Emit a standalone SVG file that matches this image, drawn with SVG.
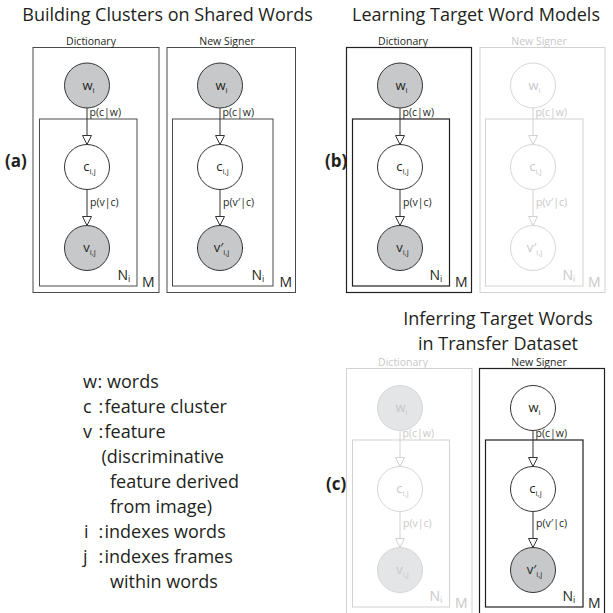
<svg xmlns="http://www.w3.org/2000/svg" width="613" height="613" viewBox="0 0 613 613">
<defs>
<style>
text{font-family:"Open Sans","Noto Sans","Liberation Sans",sans-serif;}
.title{font-size:18px;fill:#231f20;text-anchor:middle;}
.plabel{font-size:17px;font-weight:bold;fill:#231f20;}
.leg{font-size:18px;fill:#231f20;}
.hdr{font-size:10.5px;text-anchor:middle;fill:#231f20;}
.hdrf{font-size:10.5px;text-anchor:middle;fill:#c8c8c8;}
.elab{font-size:10.5px;fill:#231f20;}
.elabf{font-size:10.5px;fill:#c8c8c8;}
.nlab{font-size:13px;text-anchor:middle;fill:#231f20;}
.nlabf{font-size:13px;text-anchor:middle;fill:#c8c8c8;}
.sub{font-size:8px;}
.psub{font-size:9px;}
.plate{font-size:14px;fill:#231f20;}
.platef{font-size:14px;fill:#c8c8c8;}
.boxa{fill:none;stroke:#4a4a4a;stroke-width:1;}
.boxd{fill:none;stroke:#231f20;stroke-width:1.2;}
.boxf{fill:none;stroke:#d2d2d2;stroke-width:1;}
.obs{fill:#c7c8ca;stroke:#333;stroke-width:1;}
.lat{fill:#fff;stroke:#333;stroke-width:1;}
.fobs{fill:#e4e5e6;stroke:#d6d6d6;stroke-width:1;}
.flat{fill:#fff;stroke:#d6d6d6;stroke-width:1;}
.edge{stroke:#333;stroke-width:1;fill:none;marker-end:url(#arr);}
.edgef{stroke:#d2d2d2;stroke-width:1;fill:none;marker-end:url(#arrf);}
</style>
<marker id="arr" viewBox="0 0 10 10" markerUnits="userSpaceOnUse" markerWidth="10" markerHeight="10" refX="9.5" refY="5" orient="auto">
<path d="M0.5,0.5 L9.5,5 L0.5,9.5 Z" fill="#fff" stroke="#333" stroke-width="1"/>
</marker>
<marker id="arrf" viewBox="0 0 10 10" markerUnits="userSpaceOnUse" markerWidth="10" markerHeight="10" refX="9.5" refY="5" orient="auto">
<path d="M0.5,0.5 L9.5,5 L0.5,9.5 Z" fill="#fff" stroke="#d2d2d2" stroke-width="1"/>
</marker>
</defs>

<!-- Titles -->
<text class="title" x="167.5" y="21">Building Clusters on Shared Words</text>
<text class="title" x="476" y="21">Learning Target Word Models</text>
<text class="title" x="498" y="325">Inferring Target Words<tspan x="498" dy="24.5">in Transfer Dataset</tspan></text>

<text class="plabel" x="5" y="167">(a)</text>
<text class="plabel" x="325" y="167">(b)</text>
<text class="plabel" x="326" y="490">(c)</text>

<!-- Plates -->
<g id="plates">
<rect class="boxa" x="33" y="47.5" width="126" height="245"/>
<rect class="boxa" x="39.5" y="119" width="97.5" height="167"/>
<text class="hdr" x="91" y="45">Dictionary</text>
<text class="plate" x="117.5" y="280">N<tspan class="psub" dy="2">i</tspan></text>
<text class="plate" x="142" y="287">M</text>

<rect class="boxa" x="167" y="47.5" width="128.5" height="245"/>
<rect class="boxa" x="172.5" y="119" width="100.5" height="167"/>
<text class="hdr" x="227" y="45">New Signer</text>
<text class="plate" x="251.5" y="280">N<tspan class="psub" dy="2">i</tspan></text>
<text class="plate" x="279.5" y="287">M</text>

<rect class="boxd" x="346.5" y="47.5" width="125" height="245"/>
<rect class="boxd" x="352.5" y="119" width="97" height="167"/>
<text class="hdr" x="403" y="45">Dictionary</text>
<text class="plate" x="429.5" y="280">N<tspan class="psub" dy="2">i</tspan></text>
<text class="plate" x="455" y="287">M</text>

<rect class="boxf" x="480" y="47.5" width="125" height="245"/>
<rect class="boxf" x="485.5" y="119" width="97.5" height="167"/>
<text class="hdrf" x="539" y="45">New Signer</text>
<text class="platef" x="562.5" y="280">N<tspan class="psub" dy="2">i</tspan></text>
<text class="platef" x="588" y="287">M</text>

<rect class="boxf" x="346.5" y="368.5" width="125.5" height="260"/>
<rect class="boxf" x="352.5" y="440" width="97" height="167"/>
<text class="hdrf" x="403" y="366">Dictionary</text>
<text class="platef" x="429.5" y="601">N<tspan class="psub" dy="2">i</tspan></text>
<text class="platef" x="455" y="608">M</text>

<rect class="boxd" x="479.5" y="368.5" width="125" height="260"/>
<rect class="boxd" x="485.5" y="440" width="97.5" height="167"/>
<text class="hdr" x="539" y="366">New Signer</text>
<text class="plate" x="562.5" y="601">N<tspan class="psub" dy="2">i</tspan></text>
<text class="plate" x="588" y="608">M</text>
</g>

<!-- Connectors -->
<g id="connectors">
<line class="edge" x1="87" y1="108" x2="87" y2="144.5"/>
<line class="edge" x1="87" y1="189.5" x2="87" y2="225.5"/>
<text class="elab" x="89.5" y="116">p(c|w)</text>
<text class="elab" x="90" y="206">p(v|c)</text>

<line class="edge" x1="220" y1="108" x2="220" y2="144.5"/>
<line class="edge" x1="220" y1="189.5" x2="220" y2="225.5"/>
<text class="elab" x="222.5" y="116">p(c|w)</text>
<text class="elab" x="223" y="206">p(v′|c)</text>

<line class="edge" x1="400" y1="108" x2="400" y2="144.5"/>
<line class="edge" x1="400" y1="189.5" x2="400" y2="225.5"/>
<text class="elab" x="402.5" y="116">p(c|w)</text>
<text class="elab" x="403" y="206">p(v|c)</text>

<line class="edgef" x1="533" y1="108" x2="533" y2="144.5"/>
<line class="edgef" x1="533" y1="189.5" x2="533" y2="225.5"/>
<text class="elabf" x="535.5" y="116">p(c|w)</text>
<text class="elabf" x="536" y="206">p(v′|c)</text>

<line class="edgef" x1="400" y1="430.5" x2="400" y2="466.5"/>
<line class="edgef" x1="400" y1="511.5" x2="400" y2="547.5"/>
<text class="elabf" x="402.5" y="437">p(c|w)</text>
<text class="elabf" x="403" y="527">p(v|c)</text>

<line class="edge" x1="533" y1="430.5" x2="533" y2="466.5"/>
<line class="edge" x1="533" y1="511.5" x2="533" y2="547.5"/>
<text class="elab" x="535.5" y="437">p(c|w)</text>
<text class="elab" x="536" y="527">p(v′|c)</text>
</g>

<!-- Nodes (a) -->
<g id="a_dict_w"><circle class="obs" cx="87" cy="85.5" r="22.5"/><text class="nlab" x="88.5" y="89.5">w<tspan class="sub" dy="3">i</tspan></text></g>
<g id="a_dict_c"><circle class="lat" cx="87" cy="167" r="22.5"/><text class="nlab" x="89.5" y="170.5">c<tspan class="sub" dy="3">i,j</tspan></text></g>
<g id="a_dict_v"><circle class="obs" cx="87" cy="248" r="22.5"/><text class="nlab" x="89.5" y="251.5">v<tspan class="sub" dy="3">i,j</tspan></text></g>

<g id="a_new_w"><circle class="obs" cx="220" cy="85.5" r="22.5"/><text class="nlab" x="221.5" y="89.5">w<tspan class="sub" dy="3">i</tspan></text></g>
<g id="a_new_c"><circle class="lat" cx="220" cy="167" r="22.5"/><text class="nlab" x="222.5" y="170.5">c<tspan class="sub" dy="3">i,j</tspan></text></g>
<g id="a_new_v"><circle class="obs" cx="220" cy="248" r="22.5"/><text class="nlab" x="221.5" y="251.5">v′<tspan class="sub" dy="3">i,j</tspan></text></g>

<!-- Nodes (b) -->
<g id="b_dict_w"><circle class="obs" cx="400" cy="85.5" r="22.5"/><text class="nlab" x="401.5" y="89.5">w<tspan class="sub" dy="3">i</tspan></text></g>
<g id="b_dict_c"><circle class="lat" cx="400" cy="167" r="22.5"/><text class="nlab" x="402.5" y="170.5">c<tspan class="sub" dy="3">i,j</tspan></text></g>
<g id="b_dict_v"><circle class="obs" cx="400" cy="248" r="22.5"/><text class="nlab" x="402.5" y="251.5">v<tspan class="sub" dy="3">i,j</tspan></text></g>

<g id="b_new_w"><circle class="flat" cx="533" cy="85.5" r="22.5"/><text class="nlabf" x="534.5" y="89.5">w<tspan class="sub" dy="3">i</tspan></text></g>
<g id="b_new_c"><circle class="flat" cx="533" cy="167" r="22.5"/><text class="nlabf" x="535.5" y="170.5">c<tspan class="sub" dy="3">i,j</tspan></text></g>
<g id="b_new_v"><circle class="flat" cx="533" cy="248" r="22.5"/><text class="nlabf" x="534.5" y="251.5">v′<tspan class="sub" dy="3">i,j</tspan></text></g>

<!-- Nodes (c) -->
<g id="c_dict_w"><circle class="fobs" cx="400" cy="408" r="22.5"/><text class="nlabf" x="401.5" y="412">w<tspan class="sub" dy="3">i</tspan></text></g>
<g id="c_dict_c"><circle class="flat" cx="400" cy="489" r="22.5"/><text class="nlabf" x="402.5" y="492.5">c<tspan class="sub" dy="3">i,j</tspan></text></g>
<g id="c_dict_v"><circle class="fobs" cx="400" cy="570" r="22.5"/><text class="nlabf" x="402.5" y="573.5">v<tspan class="sub" dy="3">i,j</tspan></text></g>

<g id="c_new_w"><circle class="lat" cx="533" cy="408" r="22.5"/><text class="nlab" x="534.5" y="412">w<tspan class="sub" dy="3">i</tspan></text></g>
<g id="c_new_c"><circle class="lat" cx="533" cy="489" r="22.5"/><text class="nlab" x="535.5" y="492.5">c<tspan class="sub" dy="3">i,j</tspan></text></g>
<g id="c_new_v"><circle class="obs" cx="533" cy="570" r="22.5"/><text class="nlab" x="534.5" y="573.5">v′<tspan class="sub" dy="3">i,j</tspan></text></g>

<!-- Legend -->
<g id="legend">
<text class="leg" y="388.3"><tspan x="83">w</tspan><tspan x="97.5">:</tspan><tspan x="107">words</tspan></text>
<text class="leg" y="413.3"><tspan x="83">c</tspan><tspan x="98.5">:</tspan><tspan x="104.5">feature cluster</tspan></text>
<text class="leg" y="438.3"><tspan x="83">v</tspan><tspan x="98.5">:</tspan><tspan x="104.5">feature</tspan></text>
<text class="leg" x="101.5" y="463.3">(discriminative</text>
<text class="leg" x="110" y="488.3">feature derived</text>
<text class="leg" x="110" y="513.3">from image)</text>
<text class="leg" y="538.3"><tspan x="84">i</tspan><tspan x="98.5">:</tspan><tspan x="104.5">indexes words</tspan></text>
<text class="leg" y="563.3"><tspan x="83">j</tspan><tspan x="98.5">:</tspan><tspan x="104.5">indexes frames</tspan></text>
<text class="leg" x="110" y="588.3">within words</text>
</g>
</svg>
